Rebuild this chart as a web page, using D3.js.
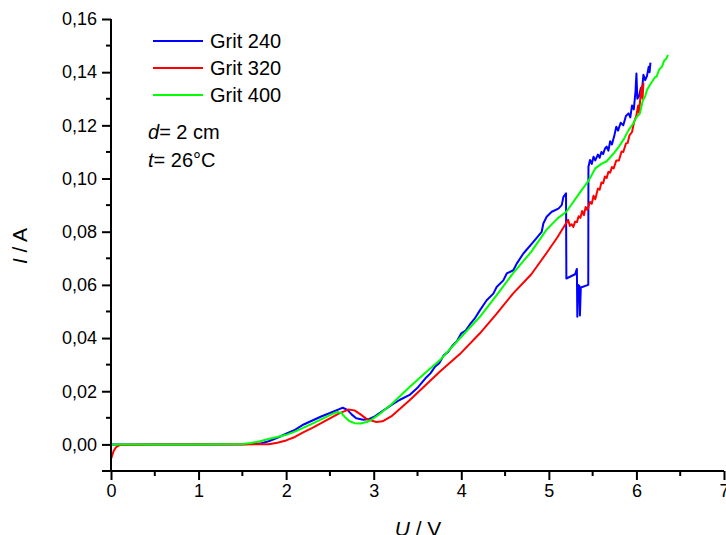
<!DOCTYPE html>
<html>
<head>
<meta charset="utf-8">
<script src="https://cdn.jsdelivr.net/npm/d3@7/dist/d3.min.js"></script>
<style>
html,body{margin:0;padding:0;background:#fff;}
svg{display:block;font-family:"Liberation Sans",Arial,sans-serif;}
</style>
</head>
<body>
<svg id="chart" width="726" height="535"></svg>
<script>
// ---- data ----
const seriesNames = ["Grit 240", "Grit 320", "Grit 400"];
const seriesColors = ["#0000ff", "#ff0000", "#00ff00"];

const u240 = [0,0.5,1.0,1.5,1.7,1.8,1.9,2.0,2.1,2.2,2.3,2.4,2.5,2.6,2.646,2.7,2.75,2.8,2.88,2.95,3.0,3.1,3.2,3.3,3.41,3.5,3.6,3.65,3.7,3.75,3.8,3.85,3.9,3.95,4.0,4.05,4.1,4.15,4.214,4.29,4.366,4.404,4.48,4.519,4.594,4.633,4.709,4.823,4.918,4.937,4.975,5.033,5.109,5.147,5.166,5.196,5.2,5.30,5.32,5.325,5.335,5.35,5.355,5.365,5.45,5.452,5.47,5.49,5.51,5.53,5.56,5.58,5.60,5.62,5.64,5.66,5.68,5.70,5.72,5.75,5.77,5.79,5.82,5.85,5.88,5.91,5.93,5.95,5.97,5.98,5.99,6.0,6.01,6.03,6.05,6.06,6.08,6.10,6.12,6.14,6.15,6.16];
const i240 = [0,0,0,0.0001,0.0003,0.0012,0.0025,0.0040,0.0055,0.0075,0.0090,0.0105,0.0118,0.0132,0.0138,0.0130,0.0112,0.0098,0.0093,0.0096,0.0103,0.0125,0.0148,0.0168,0.0186,0.0213,0.0252,0.0268,0.0292,0.0306,0.0335,0.0348,0.0372,0.0388,0.0418,0.0428,0.0452,0.0472,0.0505,0.0542,0.0567,0.0592,0.0617,0.0643,0.0655,0.0680,0.0718,0.0762,0.0799,0.0831,0.0856,0.0875,0.0887,0.0900,0.0931,0.0944,0.0624,0.0640,0.0660,0.0480,0.0600,0.0595,0.0485,0.0590,0.0600,0.1044,0.1070,0.1055,0.1082,0.1068,0.1090,0.1078,0.1100,0.1092,0.1112,0.1120,0.1105,0.1140,0.1128,0.1165,0.1195,0.1180,0.1210,0.1200,0.1235,0.1245,0.1230,0.1275,0.1260,0.1295,0.1330,0.1395,0.1300,0.1310,0.1340,0.1320,0.1390,0.1370,0.1385,0.1420,0.1400,0.1436];

const u320 = [0,0.01,0.03,0.06,0.1,0.5,1.0,1.5,1.8,1.9,2.0,2.1,2.2,2.3,2.4,2.5,2.6,2.71,2.78,2.85,2.92,3.03,3.1,3.2,3.41,3.6,3.76,4.0,4.21,4.4,4.59,4.8,4.97,5.1,5.20,5.22,5.24,5.26,5.28,5.30,5.32,5.34,5.36,5.38,5.40,5.42,5.44,5.47,5.49,5.51,5.53,5.56,5.58,5.60,5.62,5.64,5.66,5.68,5.70,5.72,5.74,5.77,5.80,5.83,5.85,5.88,5.90,5.92,5.95,5.97,6.00,6.02,6.03,6.05,6.06,6.07,6.08];
const i320 = [-0.0055,-0.0045,-0.0025,-0.0010,-0.0002,0,0,0,0.0001,0.0006,0.0015,0.0028,0.0046,0.0062,0.0080,0.0098,0.0116,0.0131,0.0128,0.0113,0.0095,0.0084,0.0087,0.0105,0.0166,0.0225,0.0275,0.0345,0.0417,0.0490,0.0567,0.0640,0.0718,0.0780,0.0834,0.0845,0.0822,0.0828,0.0818,0.0838,0.0836,0.0858,0.0852,0.0878,0.0862,0.0893,0.0882,0.0912,0.0905,0.0935,0.0922,0.0962,0.0958,0.0985,0.0982,0.1008,0.1002,0.1025,0.1022,0.1043,0.1038,0.1068,0.1068,0.1102,0.1100,0.1132,0.1134,0.1162,0.1175,0.1208,0.1238,0.1275,0.1248,0.1322,0.1345,0.1300,0.1360];

const u400 = [0,0.5,1.0,1.5,1.6,1.7,1.8,1.9,2.0,2.1,2.2,2.3,2.4,2.5,2.55,2.59,2.63,2.68,2.72,2.78,2.85,2.92,2.96,3.05,3.2,3.41,3.6,3.76,4.0,4.21,4.4,4.59,4.8,4.97,5.1,5.2,5.36,5.45,5.53,5.6,5.66,5.74,5.8,5.86,5.91,5.96,6.0,6.04,6.07,6.1,6.12,6.15,6.18,6.21,6.23,6.26,6.29,6.32,6.34,6.36];
const i400 = [0,0,0,0.0002,0.0005,0.0012,0.0020,0.0028,0.0036,0.0048,0.0063,0.0078,0.0094,0.0110,0.0118,0.0122,0.0118,0.0100,0.0088,0.0080,0.0079,0.0084,0.0090,0.0110,0.0150,0.0216,0.0272,0.0318,0.0405,0.0479,0.0560,0.0643,0.0725,0.0806,0.0850,0.0875,0.0950,0.0990,0.1038,0.1055,0.1065,0.1094,0.1120,0.1150,0.1182,0.1205,0.1230,0.1245,0.1290,0.1310,0.1333,0.1350,0.1365,0.1380,0.1383,0.1410,0.1420,0.1445,0.1450,0.1465];

const xTicks = [0,1,2,3,4,5,6,7];
const yTicks = [0,0.02,0.04,0.06,0.08,0.10,0.12,0.14,0.16];

// ---- chart ----
const svg = d3.select("#chart");
const x = d3.scaleLinear().domain([0,7]).range([111,724]);
const y = d3.scaleLinear().domain([-0.01,0.16]).range([471,19]);

const fmtY = d => d3.format(".2f")(d).replace(".", ",");

// curves
const line = d3.line().x(d => x(d[0])).y(d => y(d[1]));
const series = [
  d3.zip(u240, i240),
  d3.zip(u320, i320),
  d3.zip(u400, i400)
];
series.forEach((s, k) => {
  svg.append("path").datum(s)
    .attr("d", line)
    .attr("fill", "none")
    .attr("stroke", seriesColors[k])
    .attr("stroke-width", 2)
    .attr("stroke-linejoin", "round");
});

// x axis
const xAxis = d3.axisBottom(x).tickValues(xTicks).tickFormat(d3.format("d")).tickSize(9).tickPadding(4);
const gx = svg.append("g").attr("transform", `translate(0,${y(-0.01)})`).call(xAxis);
gx.selectAll(".tick line").attr("stroke-width", 2);
gx.select(".domain").attr("stroke-width", 2).attr("d", `M102,0H724`);
gx.selectAll("text").attr("font-size", 18).attr("font-family", '"Liberation Sans",Arial,sans-serif').attr("fill", "#000");
const xMinor = d3.range(0.5, 7, 1);
gx.selectAll(".minor").data(xMinor).enter().append("line")
  .attr("x1", d => x(d)).attr("x2", d => x(d)).attr("y1", 0).attr("y2", 5)
  .attr("stroke", "#000").attr("stroke-width", 2);

// y axis
const yAxis = d3.axisLeft(y).tickValues(yTicks).tickFormat(fmtY).tickSize(9).tickPadding(5);
const gy = svg.append("g").attr("transform", `translate(${x(0)},0)`).call(yAxis);
gy.selectAll(".tick line").attr("stroke-width", 2);
gy.select(".domain").attr("stroke-width", 2).attr("d", `M0,${y(0.16)}V${y(-0.01)}`);
gy.selectAll("text").attr("font-size", 18).attr("font-family", '"Liberation Sans",Arial,sans-serif').attr("fill", "#000");
const yMinor = [0.01,0.03,0.05,0.07,0.09,0.11,0.13,0.15];
gy.selectAll(".minor").data(yMinor).enter().append("line")
  .attr("x1", -5).attr("x2", 0).attr("y1", d => y(d)).attr("y2", d => y(d))
  .attr("stroke", "#000").attr("stroke-width", 2);

// axis titles
const xt = svg.append("text").attr("x", 418).attr("y", 536).attr("text-anchor", "middle").attr("font-size", 21);
xt.append("tspan").attr("font-style", "italic").text("U");
xt.append("tspan").text(" / V");
const yt = svg.append("text").attr("transform", "translate(27,246) rotate(-90)").attr("text-anchor", "middle").attr("font-size", 21);
yt.append("tspan").attr("font-style", "italic").text("I");
yt.append("tspan").text(" / A");

// legend
const legY = [41, 68, 95];
seriesNames.forEach((n, k) => {
  svg.append("line").attr("x1", 153).attr("x2", 203).attr("y1", legY[k]).attr("y2", legY[k])
    .attr("stroke", seriesColors[k]).attr("stroke-width", 2);
  svg.append("text").attr("x", 210).attr("y", legY[k] + 7).attr("font-size", 20).text(n);
});

// annotations
const a1 = svg.append("text").attr("x", 148).attr("y", 139).attr("font-size", 20);
a1.append("tspan").attr("font-style", "italic").text("d");
a1.append("tspan").text("= 2 cm");
const a2 = svg.append("text").attr("x", 148).attr("y", 167).attr("font-size", 20);
a2.append("tspan").attr("font-style", "italic").text("t");
a2.append("tspan").text("= 26°C");
</script>
</body>
</html>
